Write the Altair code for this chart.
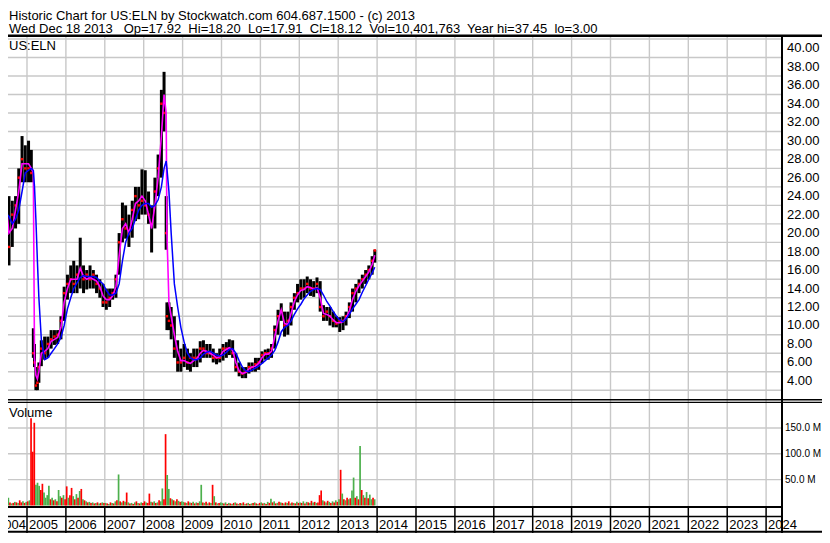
import altair as alt
import pandas as pd

# ---------------- text ----------------
TICKER = "US:ELN"
TITLE_1 = "Historic Chart for US:ELN by Stockwatch.com 604.687.1500 - (c) 2013"
TITLE_2 = ("Wed Dec 18 2013\u00a0\u00a0 Op=17.92\u00a0 Hi=18.20\u00a0 Lo=17.91\u00a0 Cl=18.12"
           "\u00a0 Vol=10,401,763\u00a0 Year hi=37.45\u00a0 lo=3.00")

# ---------------- price data ----------------
dates = [
    "2004-04-25", "2004-05", "2004-06", "2004-07", "2004-08", "2004-09", "2004-10", "2004-11", "2004-12",
    "2005-01", "2005-02-10", "2005-03-01", "2005-03-12", "2005-03-25", "2005-04-08", "2005-04-22",
    "2005-05", "2005-06", "2005-07", "2005-08", "2005-09", "2005-10", "2005-11", "2005-12",
    "2006-01", "2006-02", "2006-03", "2006-04", "2006-05", "2006-06", "2006-07", "2006-08", "2006-09", "2006-10", "2006-11", "2006-12",
    "2007-01", "2007-02", "2007-03", "2007-04", "2007-05", "2007-06", "2007-07", "2007-08", "2007-09", "2007-10", "2007-11", "2007-12",
    "2008-01", "2008-02", "2008-03", "2008-04", "2008-05", "2008-06", "2008-07-10", "2008-07-30", "2008-08-06", "2008-08-25",
    "2008-09", "2008-10", "2008-11", "2008-12",
    "2009-01", "2009-02", "2009-03", "2009-04", "2009-05", "2009-06", "2009-07", "2009-08", "2009-09", "2009-10", "2009-11", "2009-12",
    "2010-01", "2010-02", "2010-03", "2010-04", "2010-05", "2010-06", "2010-07", "2010-08", "2010-09", "2010-10", "2010-11", "2010-12",
    "2011-01", "2011-02", "2011-03", "2011-04", "2011-05", "2011-06", "2011-07", "2011-08", "2011-09", "2011-10", "2011-11", "2011-12",
    "2012-01", "2012-02", "2012-03", "2012-04", "2012-05", "2012-06", "2012-07", "2012-08", "2012-09", "2012-10", "2012-11", "2012-12",
    "2013-01", "2013-02", "2013-03", "2013-04", "2013-05", "2013-06", "2013-07", "2013-08", "2013-09", "2013-10", "2013-11", "2013-12-10",
]
high = [
    23.0, 24.5, 26.0, 24.0, 23.5, 24.0, 27.0, 30.5, 29.5,
    30.0, 29.0, 9.7, 8.0, 5.5, 4.3, 6.0, 8.4, 8.8, 8.8, 9.5, 9.5, 9.5, 11.0, 14.2,
    15.5, 16.5, 17.0, 16.5, 19.5, 16.5, 16.0, 16.5, 16.0, 15.5, 15.0, 14.5,
    14.0, 14.0, 14.0, 15.5, 20.0, 23.3, 23.0, 22.0, 23.5, 25.0, 25.0, 26.9,
    26.8, 24.5, 23.0, 26.0, 28.5, 35.5, 37.45, 24.0, 12.5, 12.5, 12.0, 11.0, 8.4, 7.5,
    8.0, 7.5, 7.0, 7.5, 7.5, 8.3, 8.4, 8.0, 8.0, 7.5, 7.0, 7.5,
    8.0, 8.2, 8.5, 8.4, 7.0, 6.0, 5.5, 5.5, 6.0, 6.0, 6.5, 6.5,
    7.2, 7.4, 7.5, 8.0, 10.0, 11.7, 12.4, 11.5, 11.5, 12.5, 13.5, 14.5,
    15.0, 15.0, 15.3, 15.0, 14.8, 15.2, 14.8, 12.2, 12.0, 12.0, 11.5, 11.0,
    10.9, 11.0, 11.5, 12.5, 14.0, 14.5, 15.0, 15.5, 16.0, 16.5, 17.5, 18.2,
]
low = [
    19.5, 20.0, 21.5, 16.5, 18.5, 20.5, 21.0, 25.5, 25.5,
    25.5, 25.5, 6.5, 5.5, 3.0, 3.0, 3.8, 5.6, 6.3, 6.5, 7.5, 7.9, 8.0, 8.5, 10.5,
    12.8, 13.5, 13.5, 13.5, 14.0, 13.5, 13.9, 14.0, 14.0, 13.5, 13.0, 12.0,
    11.7, 12.0, 12.8, 13.0, 15.5, 19.0, 19.4, 18.5, 19.5, 21.3, 21.5, 22.0,
    22.0, 21.0, 17.9, 20.5, 24.0, 26.0, 31.0, 18.2, 9.5, 9.5, 8.5, 6.5, 5.0, 5.0,
    5.5, 5.2, 5.0, 5.5, 5.5, 6.0, 6.5, 6.5, 6.5, 6.0, 5.8, 6.0,
    6.2, 6.5, 6.8, 6.5, 5.0, 4.5, 4.3, 4.3, 4.8, 5.0, 5.0, 5.2,
    5.9, 6.3, 6.3, 6.5, 7.5, 9.0, 10.5, 8.8, 9.0, 10.0, 11.7, 12.5,
    12.8, 13.0, 13.5, 13.2, 13.1, 13.5, 11.5, 10.5, 10.5, 10.0, 9.8, 9.8,
    9.3, 9.5, 10.0, 10.8, 11.5, 12.5, 13.5, 14.0, 14.5, 15.0, 15.5, 16.8,
]
close = [
    21.0, 21.5, 24.5, 18.5, 22.0, 23.0, 26.0, 28.0, 27.0,
    27.0, 26.5, 7.0, 6.0, 3.5, 3.8, 5.5, 7.5, 7.0, 8.0, 8.5, 8.8, 9.0, 10.5, 13.5,
    14.5, 15.0, 14.5, 15.5, 16.0, 15.0, 15.5, 15.0, 15.5, 14.5, 14.0, 12.5,
    12.5, 13.0, 13.5, 15.0, 19.0, 21.5, 20.5, 20.0, 22.5, 24.0, 23.0, 23.5,
    23.0, 22.0, 21.0, 24.5, 27.0, 34.0, 33.0, 20.0, 11.0, 10.5, 10.0, 7.5, 6.0, 6.0,
    6.5, 6.0, 6.5, 6.5, 6.5, 7.5, 7.5, 7.0, 7.0, 6.5, 6.5, 6.5,
    7.5, 7.5, 7.5, 7.0, 5.5, 5.0, 4.8, 5.0, 5.5, 5.5, 5.8, 6.0,
    6.8, 7.0, 7.0, 7.5, 9.5, 11.0, 11.5, 10.0, 10.5, 12.0, 13.0, 13.5,
    14.0, 14.0, 14.5, 14.0, 14.0, 14.5, 12.0, 11.0, 11.5, 11.0, 10.5, 10.2,
    10.5, 10.5, 11.0, 12.0, 13.5, 14.0, 14.5, 15.0, 15.5, 16.0, 17.0, 18.12,
]
ma_short = [
    21.5, 22.0, 23.5, 20.0, 20.5, 22.5, 24.5, 27.5, 27.5,
    27.5, 27.0, 26.5, 6.5, 4.6, 4.2, 5.0, 7.0, 7.2, 7.5, 8.3, 8.5, 8.7, 9.8, 12.5,
    14.0, 15.0, 15.0, 15.0, 16.2, 15.3, 15.0, 15.2, 15.0, 14.8, 14.2, 13.2,
    12.8, 12.8, 13.2, 14.2, 17.5, 20.5, 21.0, 20.0, 21.5, 23.2, 23.5, 24.0,
    23.5, 22.0, 20.5, 23.0, 26.0, 30.5, 35.0, 33.0, 20.0, 12.5, 11.0, 9.0, 7.2, 6.2,
    6.2, 6.0, 5.9, 6.2, 6.4, 7.0, 7.3, 7.2, 7.0, 6.8, 6.5, 6.6,
    7.2, 7.4, 7.6, 7.3, 6.0, 5.1, 4.8, 4.9, 5.3, 5.5, 5.6, 5.9,
    6.5, 6.9, 6.9, 7.2, 8.8, 10.5, 11.7, 10.2, 10.1, 11.3, 12.6, 13.3,
    13.8, 13.9, 14.2, 14.1, 13.9, 14.1, 13.0, 11.3, 11.2, 11.0, 10.6, 10.3,
    10.3, 10.4, 10.8, 11.6, 12.8, 13.7, 14.3, 14.8, 15.3, 15.8, 16.6, 17.6,
]
ma_long = [
    21.0, 21.5, 22.2, 21.8, 21.0, 21.5, 22.5, 24.5, 26.5,
    26.8, 27.0, 26.8, 25.0, 21.5, 17.0, 13.0, 8.5, 6.3, 6.5, 7.0, 7.5, 8.0, 8.7, 10.0,
    11.8, 13.0, 14.0, 14.6, 15.2, 15.4, 15.3, 15.3, 15.3, 15.2, 14.8, 14.5,
    13.8, 13.3, 13.3, 13.5, 14.5, 17.0, 19.0, 20.0, 20.5, 21.5, 22.5, 23.0,
    23.2, 23.2, 22.8, 23.0, 23.6, 25.0, 27.0, 27.8, 27.0, 24.5, 20.0, 14.5, 12.0, 9.8,
    8.2, 7.0, 6.5, 6.3, 6.3, 6.5, 6.9, 7.1, 7.2, 7.0, 6.8, 6.7,
    6.8, 7.1, 7.4, 7.5, 7.0, 6.2, 5.5, 5.1, 5.0, 5.2, 5.4, 5.6,
    5.9, 6.2, 6.5, 6.8, 7.3, 8.2, 9.3, 9.8, 10.0, 10.5, 11.2, 11.8,
    12.3, 12.9, 13.3, 13.7, 13.9, 14.0, 13.9, 13.3, 12.6, 12.1, 11.5, 11.0,
    10.6, 10.4, 10.7, 11.2, 11.8, 12.3, 12.8, 13.6, 14.3, 15.0, 15.7, 16.3,
]

# ---------------- volume data, millions, half-month bars (R = down, G = up) ----------------
vol_2004 = [5, 6, 4, 7, 5, 15, 6, 4, 5, 7, 6, 5, 10, 6, 8, 5, 7]          # from 2nd half of April
col_2004 = "GRGRRGRGRGRGRRGRG"
vol_2005 = [8, 10, 169, 104, 160, 40, 44, 38, 30, 42, 25, 15, 20, 38, 12, 15, 10, 12, 8, 30, 18, 15, 20, 12]
col_2005 = "RGRRRGGGRRGGGGRGRGRGGRGR"
vol_2006 = [37, 15, 20, 34, 18, 12, 22, 15, 28, 32, 12, 10, 8, 6, 7, 5, 6, 4, 5, 6, 4, 5, 6, 5]
col_2006 = "RGRRGRGRGRGRGRGRGRGRGRGR"
vol_2007 = [5, 4, 3, 6, 5, 4, 8, 10, 60, 8, 6, 9, 7, 25, 6, 4, 5, 3, 6, 8, 5, 4, 6, 5]
col_2007 = "GRGRGRGRGRGRGRGRGRGRGRGR"
vol_2008 = [8, 6, 5, 23, 7, 6, 8, 5, 6, 10, 8, 33, 12, 138, 59, 32, 14, 12, 10, 8, 12, 9, 7, 8]
col_2008 = "RGRRGRGRGRGGRRGGRGRGRGRG"
vol_2009 = [7, 6, 5, 8, 6, 5, 7, 4, 6, 5, 8, 40, 6, 5, 7, 4, 6, 5, 40, 18, 6, 4, 5, 6]
col_2009 = "GRGRGRGRGRGGRGRGRGRGRGRG"
vol_2010 = [5, 4, 6, 3, 5, 4, 3, 5, 6, 4, 3, 5, 4, 6, 3, 4, 5, 3, 4, 5, 6, 4, 3, 5]
col_2010 = "GRGRGRGRGRGRGRGRGRGRGRGR"
vol_2011 = [6, 4, 5, 3, 7, 5, 13, 6, 8, 4, 5, 7, 6, 5, 4, 6, 5, 8, 4, 6, 5, 4, 7, 5]
col_2011 = "GRGRGRGRGRGRGRGRGRGRGRGR"
vol_2012 = [6, 5, 8, 4, 7, 6, 5, 9, 6, 7, 5, 6, 20, 29, 10, 8, 6, 9, 7, 5, 8, 6, 10, 7]
col_2012 = "GRGRGRGRGRGRRRGRGRGRGRGR"
vol_2013 = [12, 69, 23, 12, 10, 15, 12, 14, 29, 54, 15, 18, 12, 115, 30, 20, 15, 26, 14, 21, 12, 15, 12]
col_2013 = "GRGRGRGRGGRGRGRGRGRGGRG"

# ---------------- axis values ----------------
years = list(range(2004, 2025))
price_ticks = [4, 6, 8, 10, 12, 14, 16, 18, 20, 22, 24, 26, 28, 30, 32, 34, 36, 38, 40]
price_grid = [3, 5, 7, 9, 11, 13, 15, 17, 19, 21, 23, 25, 27, 29, 31, 33, 35, 37, 39, 41]
volume_ticks = [50, 100, 150]

# ---------------- layout / style ----------------
W = 814          # panel width (plot + right label column)
RB = 774         # x of the right border of the plot area
H_T, H_P, H_V, H_B = 29, 362, 107, 27
X_DOM = [2004.5116, 2025.437]
P_DOM = [2.045, 41.22]
V_DOM = [-1.0, 206.0]
FONT = "Liberation Sans"
GRID = "#c8c8c8"


def dec_year(s):
    p = s.split("-")
    y, m = int(p[0]), int(p[1])
    d = int(p[2]) if len(p) > 2 else 15
    ts = pd.Timestamp(year=y, month=m, day=d)
    n = 366 if ts.is_leap_year else 365
    return y + (ts.dayofyear - 0.5) / n


px = pd.DataFrame({"t": [dec_year(s) for s in dates], "hi": high, "lo": low,
                   "cl": close, "maf": ma_short, "mas": ma_long})

vol_rows = []
for yr, k0, vals, cols in [(2004, 7, vol_2004, col_2004), (2005, 0, vol_2005, col_2005),
                           (2006, 0, vol_2006, col_2006), (2007, 0, vol_2007, col_2007),
                           (2008, 0, vol_2008, col_2008), (2009, 0, vol_2009, col_2009),
                           (2010, 0, vol_2010, col_2010), (2011, 0, vol_2011, col_2011),
                           (2012, 0, vol_2012, col_2012), (2013, 0, vol_2013, col_2013)]:
    for i, (v, c) in enumerate(zip(vals, cols)):
        vol_rows.append({"t": yr + (k0 + i + 0.5) / 24.0, "v": v, "c": c, "base": 0.0})
vol = pd.DataFrame(vol_rows)

xs = alt.Scale(domain=X_DOM, nice=False, zero=False)
yP = alt.Scale(domain=P_DOM, nice=False, zero=False)
yV = alt.Scale(domain=V_DOM, nice=False, zero=False)
one = pd.DataFrame({"k": [0]})
bounds = pd.DataFrame({"yr": years[1:]})


def hline(y, x1, x2, w, color="black"):
    return alt.Chart(one).mark_rule(color=color, strokeWidth=w, clip=True).encode(
        x=alt.value(x1), x2=alt.value(x2), y=alt.value(y))


def vline(x, w, color="black"):
    return alt.Chart(one).mark_rule(color=color, strokeWidth=w, clip=True).encode(x=alt.value(x))


def label(text, x, y, align="left", baseline="middle"):
    return alt.Chart(pd.DataFrame({"s": [text]})).mark_text(
        align=align, baseline=baseline, font=FONT, fontSize=13, color="black", clip=True
    ).encode(x=alt.value(x), y=alt.value(y), text="s:N")


# ---------------- title panel ----------------
title_panel = alt.layer(
    label(TITLE_1, 1, 11.5, baseline="alphabetic"),
    label(TITLE_2, 1, 25, baseline="alphabetic"),
    hline(27.8, 0, W, 2.4),
).properties(width=W, height=H_T)

# ---------------- price panel ----------------
vgrid_p = alt.Chart(bounds).mark_rule(color=GRID, strokeWidth=1.4, clip=True).encode(
    x=alt.X("yr:Q", scale=xs, axis=None))
hgrid_p = alt.Chart(pd.DataFrame({"v": price_grid})).mark_rule(color=GRID, strokeWidth=1.4, clip=True).encode(
    y=alt.Y("v:Q", scale=yP, axis=None), x=alt.value(0), x2=alt.value(RB))
bars = alt.Chart(px).mark_rule(color="black", strokeWidth=3.0, clip=True).encode(
    x=alt.X("t:Q", scale=xs, axis=None), y=alt.Y("lo:Q", scale=yP, axis=None), y2="hi:Q")
closes = alt.Chart(px).mark_square(color="#ff0000", size=6, opacity=1, clip=True).encode(
    x=alt.X("t:Q", scale=xs, axis=None), y=alt.Y("cl:Q", scale=yP, axis=None))
line_short = alt.Chart(px).mark_line(color="#ff00ff", strokeWidth=1.6, clip=True).encode(
    x=alt.X("t:Q", scale=xs, axis=None), y=alt.Y("maf:Q", scale=yP, axis=None))
line_long = alt.Chart(px).mark_line(color="#0000ff", strokeWidth=1.5, clip=True).encode(
    x=alt.X("t:Q", scale=xs, axis=None), y=alt.Y("mas:Q", scale=yP, axis=None))
price_labels = alt.Chart(pd.DataFrame({"v": price_ticks, "s": [f"{v:.2f}" for v in price_ticks]})).mark_text(
    align="left", baseline="middle", font=FONT, fontSize=13, color="black", clip=True).encode(
    x=alt.value(RB + 5), y=alt.Y("v:Q", scale=yP, axis=None), text="s:N")

price_panel = alt.layer(
    vgrid_p, hgrid_p, bars, closes, line_short, line_long, price_labels,
    label(TICKER, 1, 9),
    vline(RB, 2),
).properties(width=W, height=H_P)

# ---------------- volume panel ----------------
vgrid_v = alt.Chart(bounds).mark_rule(color=GRID, strokeWidth=1.4, clip=True).encode(
    x=alt.X("yr:Q", scale=xs, axis=None))
hgrid_v = alt.Chart(pd.DataFrame({"v": volume_ticks})).mark_rule(color=GRID, strokeWidth=1.4, clip=True).encode(
    y=alt.Y("v:Q", scale=yV, axis=None), x=alt.value(0), x2=alt.value(RB))
vbars = alt.Chart(vol).mark_rule(strokeWidth=1.7, clip=True).encode(
    x=alt.X("t:Q", scale=xs, axis=None),
    y=alt.Y("v:Q", scale=yV, axis=None), y2="base:Q",
    color=alt.Color("c:N", scale=alt.Scale(domain=["R", "G"], range=["#ff0000", "#4cb04c"]), legend=None))
vol_labels = alt.Chart(pd.DataFrame({"v": volume_ticks, "s": [f"{v:.1f} M" for v in volume_ticks]})).mark_text(
    align="left", baseline="middle", font=FONT, fontSize=10, color="black", clip=True).encode(
    x=alt.value(RB + 3), y=alt.Y("v:Q", scale=yV, axis=None), text="s:N")

volume_panel = alt.layer(
    vgrid_v, hgrid_v, vbars, vol_labels,
    label("Volume", 1, 14),
    hline(0.8, 0, W, 1.6), hline(3.3, 0, W, 1.2),
    vline(RB, 2),
).properties(width=W, height=H_V)

# ---------------- year band ----------------
year_lines = alt.Chart(bounds).mark_rule(color="black", strokeWidth=1.5, clip=True).encode(
    x=alt.X("yr:Q", scale=xs, axis=None), y=alt.value(0), y2=alt.value(H_B))
year_text = alt.Chart(pd.DataFrame({"yr": years[1:], "s": [str(y) for y in years[1:]]})).mark_text(
    align="left", baseline="alphabetic", dx=2, font=FONT, fontSize=13, color="black", clip=True).encode(
    x=alt.X("yr:Q", scale=xs, axis=None), y=alt.value(22.5), text="s:N")
first_year = alt.Chart(pd.DataFrame({"yr": [years[1]], "s": [str(years[0])]})).mark_text(
    align="right", baseline="alphabetic", dx=-1, font=FONT, fontSize=13, color="black", clip=True).encode(
    x=alt.X("yr:Q", scale=xs, axis=None), y=alt.value(22.5), text="s:N")

bottom_panel = alt.layer(
    year_lines, year_text, first_year,
    hline(1.0, 0, RB, 2), hline(10.5, 0, RB, 1.6), hline(25.8, 0, W, 2),
    vline(RB, 2),
).properties(width=W, height=H_B)

chart = alt.vconcat(
    title_panel, price_panel, volume_panel, bottom_panel, spacing=0
).resolve_scale(x="independent", y="independent", color="independent").properties(
    padding=0, background="white"
).configure_view(strokeWidth=0)

chart.save("out.html", embed_options={"renderer": "svg", "actions": False})
